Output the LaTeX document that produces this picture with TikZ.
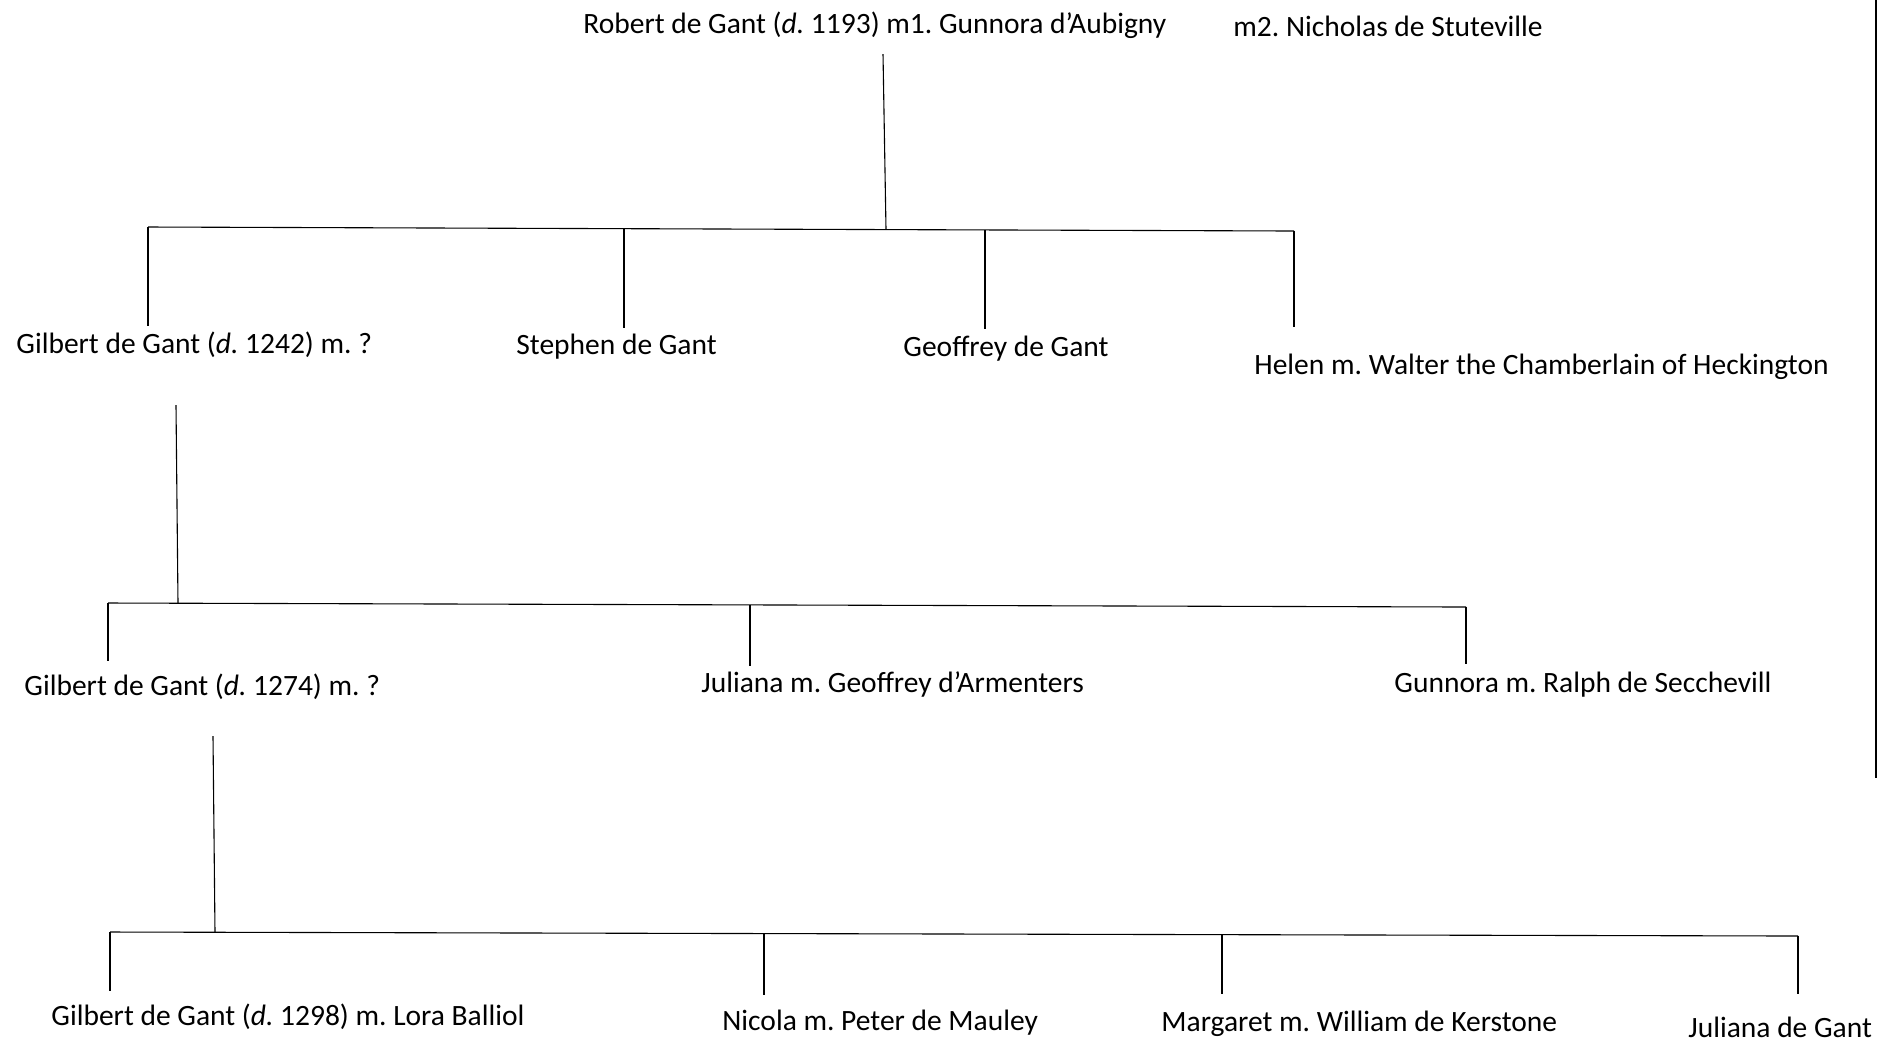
\documentclass[tikz,border=0pt]{standalone}
\usepackage{fontspec}
\setmainfont{Carlito}
\frenchspacing
\tikzset{
  person/.style={inner sep=0pt, anchor=base west, font=\fontsize{14.75pt}{17pt}\selectfont},
  link/.style={line width=0.55pt, black}
}
\begin{document}
\begin{tikzpicture}[x=0.5pt,y=-0.5pt]
\useasboundingbox (0,0) rectangle (1877,1041);
% persons
\node[person] (robert) at (583,33) {Robert de Gant (\textit{d.} 1193) m1. Gunnora d’Aubigny};
\node[person] (nicholas) at (1233,36) {m2. Nicholas de Stuteville};
\node[person] (gilbertA) at (16,353) {Gilbert de Gant (\textit{d.} 1242) m. ?};
\node[person] (stephen) at (516,354) {Stephen de Gant};
\node[person] (geoffrey) at (903,356) {Geoffrey de Gant};
\node[person] (helen) at (1254,374) {Helen m. Walter the Chamberlain of Heckington};
\node[person] (gilbertB) at (24,695) {Gilbert de Gant (\textit{d.} 1274) m. ?};
\node[person] (julianaA) at (701,692) {Juliana m. Geoffrey d’Armenters};
\node[person] (gunnora) at (1394,692) {Gunnora m. Ralph de Secchevill};
\node[person] (gilbertC) at (51,1025) {Gilbert de Gant (\textit{d.} 1298) m. Lora Balliol};
\node[person] (nicola) at (722,1030) {Nicola m. Peter de Mauley};
\node[person] (margaret) at (1161,1031) {Margaret m. William de Kerstone};
\node[person] (julianaB) at (1688,1037) {Juliana de Gant};
% junction coordinates
\coordinate (p1top) at (883,54);
\coordinate (p1bar) at (886,229.6);
\coordinate (b1l) at (148,227);
\coordinate (b1r) at (1294,231);
\coordinate (c1a) at (148,326);
\coordinate (c1at) at (148,227);
\coordinate (c1b) at (624,328);
\coordinate (c1bt) at (624,228.7);
\coordinate (c1c) at (985,329);
\coordinate (c1ct) at (985,229.9);
\coordinate (c1d) at (1294,327);
\coordinate (c1dt) at (1294,231);
\coordinate (p2top) at (176,405);
\coordinate (p2bar) at (178,603.2);
\coordinate (b2l) at (108,603);
\coordinate (b2r) at (1466,607);
\coordinate (c2a) at (108,661);
\coordinate (c2at) at (108,603);
\coordinate (c2b) at (750,666);
\coordinate (c2bt) at (750,604.9);
\coordinate (c2c) at (1466,664);
\coordinate (c2ct) at (1466,607);
\coordinate (p3top) at (213,736);
\coordinate (p3bar) at (215,932.3);
\coordinate (b3l) at (110,932);
\coordinate (b3r) at (1798,936);
\coordinate (c3a) at (110,991);
\coordinate (c3at) at (110,932);
\coordinate (c3b) at (764,995);
\coordinate (c3bt) at (764,933.5);
\coordinate (c3c) at (1222,994);
\coordinate (c3ct) at (1222,934.6);
\coordinate (c3d) at (1798,994);
\coordinate (c3dt) at (1798,936);
\coordinate (edgetop) at (1876,0);
\coordinate (edgebot) at (1876,778);
% connectors
\draw[link] (p1top) -- (p1bar);
\draw[link] (b1l) -- (b1r);
\draw[link] (c1at) -- (c1a);
\draw[link] (c1bt) -- (c1b);
\draw[link] (c1ct) -- (c1c);
\draw[link] (c1dt) -- (c1d);
\draw[link] (p2top) -- (p2bar);
\draw[link] (b2l) -- (b2r);
\draw[link] (c2at) -- (c2a);
\draw[link] (c2bt) -- (c2b);
\draw[link] (c2ct) -- (c2c);
\draw[link] (p3top) -- (p3bar);
\draw[link] (b3l) -- (b3r);
\draw[link] (c3at) -- (c3a);
\draw[link] (c3bt) -- (c3b);
\draw[link] (c3ct) -- (c3c);
\draw[link] (c3dt) -- (c3d);
\draw[link] (edgetop) -- (edgebot);
\end{tikzpicture}
\end{document}
